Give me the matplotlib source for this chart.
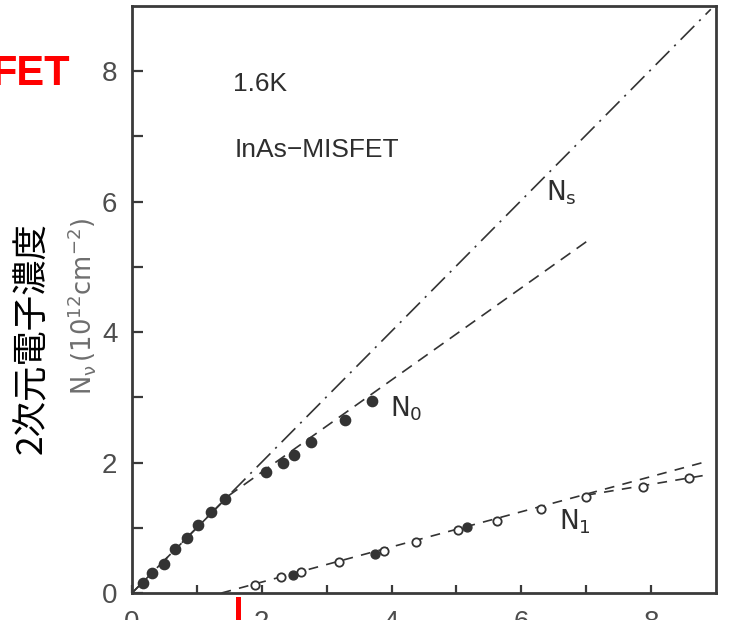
import matplotlib
matplotlib.use("Agg")
import matplotlib.pyplot as plt
from matplotlib.patches import Rectangle

plt.rcParams['lines.scale_dashes'] = False
plt.rcParams['mathtext.fontset'] = 'custom'
plt.rcParams['mathtext.rm'] = 'Liberation Sans'
plt.rcParams['mathtext.it'] = 'Liberation Sans'

# ---- data ----
n0_x = [0.17, 0.31, 0.49, 0.67, 0.84, 1.02, 1.22, 1.43, 2.06, 2.32, 2.50, 2.76, 3.28, 3.70]
n0_y = [0.16, 0.30, 0.45, 0.68, 0.85, 1.04, 1.24, 1.44, 1.86, 2.00, 2.12, 2.31, 2.66, 2.95]

n1_open_x = [1.89, 2.29, 2.61, 3.19, 3.88, 4.38, 5.02, 5.62, 6.31, 7.00, 7.87, 8.58]
n1_open_y = [0.12, 0.24, 0.32, 0.47, 0.64, 0.78, 0.97, 1.11, 1.29, 1.47, 1.62, 1.76]

n1_fill_x = [2.48, 3.74, 5.17]
n1_fill_y = [0.28, 0.60, 1.01]

ns_line_x = [0.0, 8.92]
ns_line_y = [0.0, 8.95]
n0_line_x = [0.0, 1.5, 7.05]
n0_line_y = [0.0, 1.5, 5.42]
n1_line_x = [1.38, 8.87]
n1_line_y = [0.0, 2.02]
n1_branch_x = [7.0, 8.8]
n1_branch_y = [1.50, 1.80]

x_ticks = [0, 1, 2, 3, 4, 5, 6, 7, 8]
x_ticklabels = ['0', '', '2', '', '4', '', '6', '', '8']
y_ticks = [0, 1, 2, 3, 4, 5, 6, 7, 8]
y_ticklabels = ['0', '', '2', '', '4', '', '6', '', '8']

ink = '#333333'
W, H = 730, 620
fig = plt.figure(figsize=(W / 100, H / 100), dpi=100)
ax = fig.add_axes([132 / W, 1 - 593 / H, 584 / W, 587 / H])
ax.set_xlim(0, 9)
ax.set_ylim(0, 9)

ax.plot(ns_line_x, ns_line_y, color=ink, lw=1.2, dashes=(14, 5, 1.5, 5))
ax.plot(n0_line_x, n0_line_y, color=ink, lw=1.2, dashes=(8.5, 5.5))
ax.plot(n1_line_x, n1_line_y, color=ink, lw=1.2, dashes=(7, 6))
ax.plot(n1_branch_x, n1_branch_y, color=ink, lw=1.2, dashes=(7, 6))

ax.plot(n0_x, n0_y, 'o', ms=7.4, color=ink, mec=ink, zorder=3)
ax.plot(n1_open_x, n1_open_y, 'o', ms=6.0, mfc='white', mec=ink, mew=1.3, zorder=3)
ax.plot(n1_fill_x, n1_fill_y, 'o', ms=6.4, color=ink, mec=ink, zorder=4)

for s in ax.spines.values():
    s.set_color('#3a3a3a')
    s.set_linewidth(2.0)

ax.set_xticks(x_ticks)
ax.set_xticklabels(x_ticklabels)
ax.set_yticks(y_ticks)
ax.set_yticklabels(y_ticklabels)
ax.tick_params(axis='both', direction='in', colors='#3a3a3a', width=1.6,
               labelcolor='#4d4d4d', labelsize=20)
ax.tick_params(axis='x', length=6, pad=12)
ax.tick_params(axis='y', length=8, pad=10.5)
for lab in ax.get_xticklabels() + ax.get_yticklabels():
    lab.set_family('Liberation Sans')

tfam = 'Liberation Sans'
tcol = '#2e2e2e'
ax.text(1.55, 7.69, '1.6K', fontsize=19, color=tcol, family=tfam, va='baseline')
ax.text(1.58, 6.69, 'InAs\u2212MISFET', fontsize=19, color=tcol, family=tfam, va='baseline')
ax.text(6.38, 6.02, r'$\mathregular{N_s}$', fontsize=19, color=tcol, va='baseline')
ax.text(3.97, 2.71, r'$\mathregular{N_0}$', fontsize=19, color=tcol, va='baseline')
ax.text(6.58, 0.97, r'$\mathregular{N_1}$', fontsize=19, color=tcol, va='baseline')

# y labels
fig.text(32 / W, 1 - 338 / H, '2次元電子濃度', rotation=90, fontsize=25.5,
         family=['Noto Sans CJK JP', 'DejaVu Sans'], color='black',
         ha='center', va='center')
fig.text(81 / W, 1 - 306 / H, r'$\mathregular{N_{\nu}\,(10^{12}cm^{-2})}$', rotation=90,
         fontsize=18.5, color='#6e6e6e', ha='center', va='center')

# red fragments
fig.text(70 / W, 1 - 85 / H, 'FET', fontsize=30, fontweight='bold', color='#ff0000',
         family='Liberation Sans', ha='right', va='baseline')
fig.add_artist(Rectangle((236 / W, 0), 5 / W, 23 / H, transform=fig.transFigure,
                         color='#ff0000', lw=0))

fig.savefig('out.png', dpi=100)
